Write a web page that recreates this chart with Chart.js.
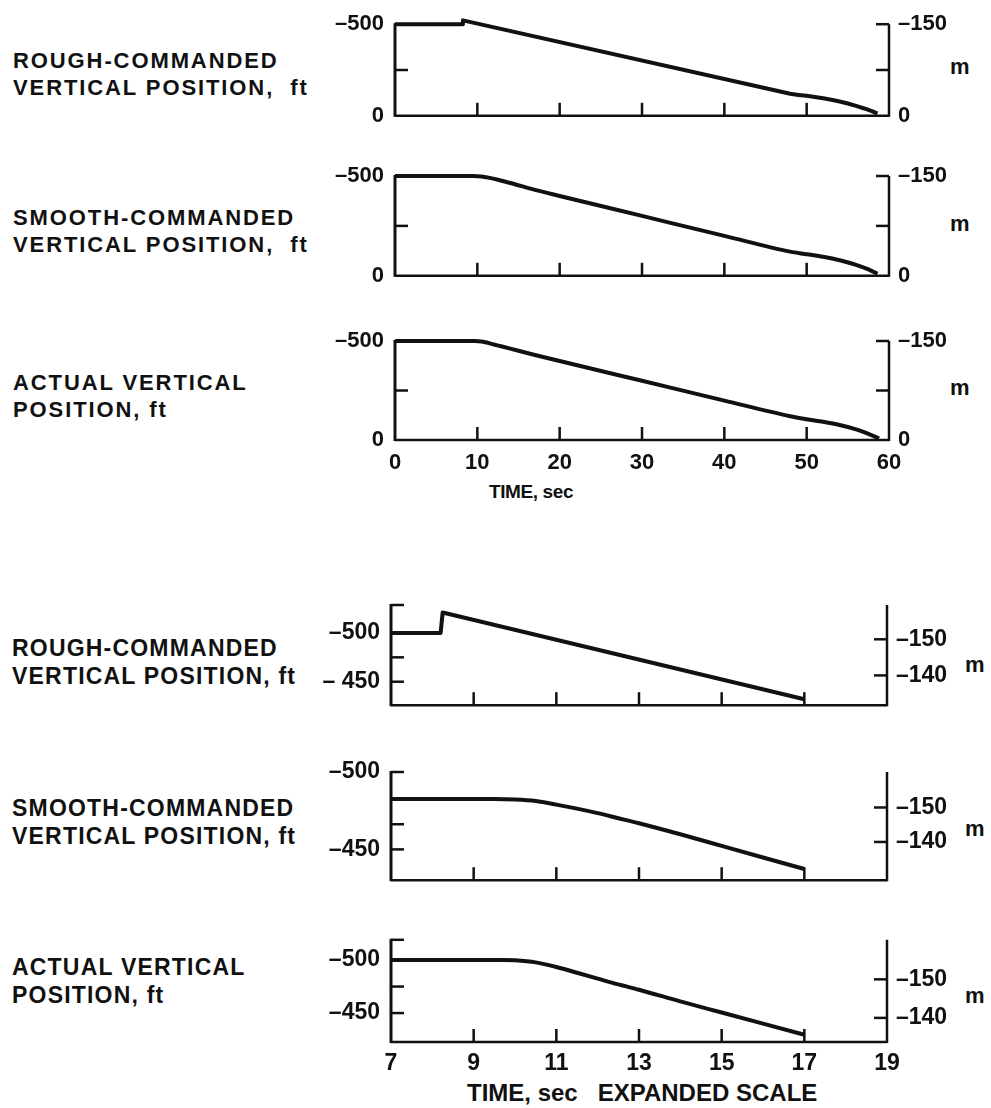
<!DOCTYPE html>
<html>
<head>
<meta charset="utf-8">
<title>Vertical position</title>
<script src="https://cdn.jsdelivr.net/npm/chart.js@4.4.1/dist/chart.umd.min.js"></script>
<style>
  body { margin: 0; background: #fff; }
  #page { position: relative; width: 991px; height: 1108px; overflow: hidden; background: #fff;
    font-family: 'Liberation Sans', Arial, sans-serif; font-weight: bold; color: #111; }
  #page div { position: absolute; white-space: nowrap; }
  .lab1 { left: 13px; font-size: 22px; line-height: 27px; letter-spacing: 1.9px; }
  .lab2 { left: 12px; font-size: 23px; line-height: 28px; letter-spacing: 1.2px; }
  .unit { font-size: 22px; line-height: 22px; }
  canvas { position: absolute; left: 290px; }
</style>
</head>
<body>
<div id="page">
  <div class="lab1" style="top:47px">ROUGH-COMMANDED<br>VERTICAL POSITION,&nbsp; ft</div>
  <div class="lab1" style="top:204px">SMOOTH-COMMANDED<br>VERTICAL POSITION,&nbsp; ft</div>
  <div class="lab1" style="top:369px">ACTUAL VERTICAL<br>POSITION, ft</div>
  <div class="lab2" style="top:634px">ROUGH-COMMANDED<br>VERTICAL POSITION, ft</div>
  <div class="lab2" style="top:794px">SMOOTH-COMMANDED<br>VERTICAL POSITION, ft</div>
  <div class="lab2" style="top:953px">ACTUAL VERTICAL<br>POSITION, ft</div>

  <div class="unit" style="left:950px;top:56px">m</div>
  <div class="unit" style="left:950px;top:213px">m</div>
  <div class="unit" style="left:950px;top:377px">m</div>
  <div class="unit" style="left:965px;top:654px">m</div>
  <div class="unit" style="left:965px;top:818px">m</div>
  <div class="unit" style="left:965px;top:985px">m</div>

  <div style="left:489px;top:482px;font-size:19px;line-height:19px;letter-spacing:-0.4px">TIME, sec</div>
  <div style="left:467px;top:1081px;font-size:24px;line-height:24px">TIME, sec&nbsp;&nbsp; EXPANDED SCALE</div>
</div>
<script>
const INK = '#111';

// full time scale, 0-60 sec
const fullTicks = [0, 10, 20, 30, 40, 50, 60];
const fullLabels = ['0', '10', '20', '30', '40', '50', '60'];
const ftTicksFull = [-500, -250, 0];
const ftLabelsFull = ['–500', '', '0'];
const mTicksFull = [-150, -75, 0];
const mLabelsFull = ['–150', '', '0'];

const roughTime = [0, 8.2, 8.25, 48, 49, 50, 51, 52, 53, 54, 55, 56, 57, 58, 58.6];
const roughFt = [-500, -500, -521, -120, -114, -109, -103, -96, -88, -78, -67, -54, -40, -24, -12];

const smoothTime = [0, 9.5, 10.5, 11.5, 12.5, 14, 17, 20, 30, 40, 48, 50, 52, 54, 56, 57.5, 58.6];
const smoothFt = [-500, -500, -498, -490.5, -481, -465, -430.5, -400, -300, -200, -121, -108, -95, -78, -55, -32, -10];

const actualTime = [0, 9.7, 10.5, 11, 12, 13, 15, 17, 20, 30, 40, 48, 50, 52, 54, 56, 57.5, 58.8];
const actualFt = [-500, -500, -497.8, -493.5, -482.5, -472, -450.5, -429.5, -399, -299, -199, -120, -105, -92, -76, -54, -31, -8];

// expanded time scale, 7-19 sec
const expTicks = [7, 9, 11, 13, 15, 17, 19];
const expLabels = ['7', '9', '11', '13', '15', '17', '19'];
const mTicksExp = [-150, -140];
const mLabelsExp = ['–150', '–140'];

const expRoughTime = [7, 8.2, 8.25, 17];
const expRoughFt = [-500, -500, -521, -432];
const roughExpTicks = [-528.7, -500, -475, -450];
const roughExpLabels = ['', '–500', '', '– 450'];

const expSmoothTime = [7, 9.5, 10, 10.5, 11, 11.5, 12, 12.5, 13, 14, 15, 16, 17];
const expSmoothFt = [-500, -500, -499.5, -498, -494.5, -490.5, -486, -481, -476, -465, -453.5, -442, -430.5];
const smoothExpTicks = [-526.9, -475, -450];
const smoothExpLabels = ['–500', '', '–450'];

const expActualTime = [7, 9.7, 10, 10.5, 11, 11.5, 12, 12.5, 13, 14, 15, 16, 17];
const expActualFt = [-500, -500, -499.7, -497.8, -493.5, -488, -482.5, -477, -472, -461, -450.5, -440, -429.5];
const actualExpTicks = [-519.1, -500, -475, -450];
const actualExpLabels = ['', '–500', '', '–450'];

const panels = [
  { time: roughTime, ft: roughFt, smooth: false, top: 0, height: 140, areaTop: 22, areaBottom: 121, areaLeft: 395, areaRight: 889,
    x: [0, 60], xTicks: fullTicks, xLabels: null, y: [-500, 0], yTicks: ftTicksFull, yLabels: ftLabelsFull,
    m: [-150, 0], mTicks: mTicksFull, mLabels: mLabelsFull, font: 22, xPad: 10 },
  { time: smoothTime, ft: smoothFt, smooth: true, top: 150, height: 150, areaTop: 176, areaBottom: 277, areaLeft: 395, areaRight: 889,
    x: [0, 60], xTicks: fullTicks, xLabels: null, y: [-500, 0], yTicks: ftTicksFull, yLabels: ftLabelsFull,
    m: [-150, 0], mTicks: mTicksFull, mLabels: mLabelsFull, font: 22, xPad: 10 },
  { time: actualTime, ft: actualFt, smooth: true, top: 310, height: 165, areaTop: 341, areaBottom: 440, areaLeft: 395, areaRight: 889,
    x: [0, 60], xTicks: fullTicks, xLabels: fullLabels, y: [-500, 0], yTicks: ftTicksFull, yLabels: ftLabelsFull,
    m: [-150, 0], mTicks: mTicksFull, mLabels: mLabelsFull, font: 22, xPad: 10 },
  { time: expRoughTime, ft: expRoughFt, smooth: false, top: 580, height: 150, areaTop: 605, areaBottom: 716, areaLeft: 391, areaRight: 887,
    x: [7, 19], xTicks: expTicks, xLabels: null, y: [-528.7, -425.9], yTicks: roughExpTicks, yLabels: roughExpLabels,
    m: [-159.5, -131.75], mTicks: mTicksExp, mLabels: mLabelsExp, font: 23, xPad: 8 },
  { time: expSmoothTime, ft: expSmoothFt, smooth: true, top: 745, height: 160, areaTop: 772, areaBottom: 888, areaLeft: 391, areaRight: 887,
    x: [7, 19], xTicks: expTicks, xLabels: null, y: [-526.9, -419.4], yTicks: smoothExpTicks, yLabels: smoothExpLabels,
    m: [-160.3, -128.9], mTicks: mTicksExp, mLabels: mLabelsExp, font: 23, xPad: 8 },
  { time: expActualTime, ft: expActualFt, smooth: true, top: 915, height: 160, areaTop: 936, areaBottom: 1042, areaLeft: 391, areaRight: 887,
    x: [7, 19], xTicks: expTicks, xLabels: expLabels, y: [-519.1, -422.7], yTicks: actualExpTicks, yLabels: actualExpLabels,
    m: [-160.25, -133.75], mTicks: mTicksExp, mLabels: mLabelsExp, font: 23, xPad: 8 }
];

const CANVAS_LEFT = 290;
const CANVAS_W = 991 - CANVAS_LEFT;
const TICK = 13;

// axis lines and inward tick marks, the way the original drafting does them
const frame = {
  id: 'frame',
  beforeDatasetsDraw(chart) {
    const { ctx, chartArea: a, scales } = chart;
    const seg = (x1, y1, x2, y2) => { ctx.beginPath(); ctx.moveTo(x1, y1); ctx.lineTo(x2, y2); ctx.stroke(); };
    ctx.save();
    ctx.strokeStyle = INK;
    ctx.lineWidth = 3;
    seg(a.left, a.top - 1, a.left, a.bottom + 1);
    ctx.lineWidth = 2.5;
    seg(a.right, a.top, a.right, a.bottom + 1);
    seg(a.left, a.bottom, a.right, a.bottom);
    scales.x.ticks.forEach(t => {
      const px = scales.x.getPixelForValue(t.value);
      if (px > a.left + 3 && px < a.right - 3) seg(px, a.bottom, px, a.bottom - TICK);
    });
    scales.y.ticks.forEach(t => {
      const py = scales.y.getPixelForValue(t.value);
      if (py < a.bottom - 3) seg(a.left, py, a.left + TICK, py);
    });
    scales.y2.ticks.forEach(t => {
      const py = scales.y2.getPixelForValue(t.value);
      if (py < a.bottom - 3) seg(a.right, py, a.right - TICK, py);
    });
    ctx.restore();
  }
};

const page = document.getElementById('page');

panels.forEach(p => {
  const cv = document.createElement('canvas');
  cv.width = CANVAS_W;
  cv.height = p.height;
  cv.style.top = p.top + 'px';
  page.appendChild(cv);

  const font = { family: "'Liberation Sans', Arial, sans-serif", weight: 'bold', size: p.font };
  const border = { display: false };

  new Chart(cv, {
    type: 'line',
    data: {
      datasets: [{
        data: p.time.map((t, i) => ({ x: t, y: p.ft[i] })),
        borderColor: INK,
        borderWidth: 4,
        pointRadius: 0,
        tension: 0,
        cubicInterpolationMode: p.smooth ? 'monotone' : 'default',
        borderJoinStyle: 'round',
        clip: false,
        yAxisID: 'y'
      }]
    },
    options: {
      responsive: false,
      animation: false,
      events: [],
      layout: { padding: { top: p.areaTop - p.top, left: 0, right: 0, bottom: 0 } },
      plugins: { legend: { display: false }, tooltip: { enabled: false } },
      scales: {
        x: {
          type: 'linear', min: p.x[0], max: p.x[1],
          grid: { display: false, drawTicks: false }, border,
          afterBuildTicks: s => { s.ticks = p.xTicks.map(v => ({ value: v })); },
          afterFit: s => { s.height = p.top + p.height - p.areaBottom; },
          ticks: {
            display: !!p.xLabels, autoSkip: false, maxRotation: 0, padding: p.xPad, color: INK, font,
            callback: (v, i) => p.xLabels ? p.xLabels[i] : ''
          }
        },
        y: {
          type: 'linear', position: 'left', reverse: true, min: p.y[0], max: p.y[1],
          grid: { display: false, drawTicks: false }, border,
          afterBuildTicks: s => { s.ticks = p.yTicks.map(v => ({ value: v })); },
          afterFit: s => { s.width = p.areaLeft - CANVAS_LEFT; },
          ticks: { autoSkip: false, padding: 11, color: INK, font, callback: (v, i) => p.yLabels[i] }
        },
        y2: {
          type: 'linear', position: 'right', reverse: true, min: p.m[0], max: p.m[1],
          grid: { display: false, drawTicks: false }, border,
          afterBuildTicks: s => { s.ticks = p.mTicks.map(v => ({ value: v })); },
          afterFit: s => { s.width = 991 - p.areaRight; },
          ticks: { autoSkip: false, padding: 9, color: INK, font, callback: (v, i) => p.mLabels[i] }
        }
      }
    },
    plugins: [frame]
  });
});
</script>
</body>
</html>
